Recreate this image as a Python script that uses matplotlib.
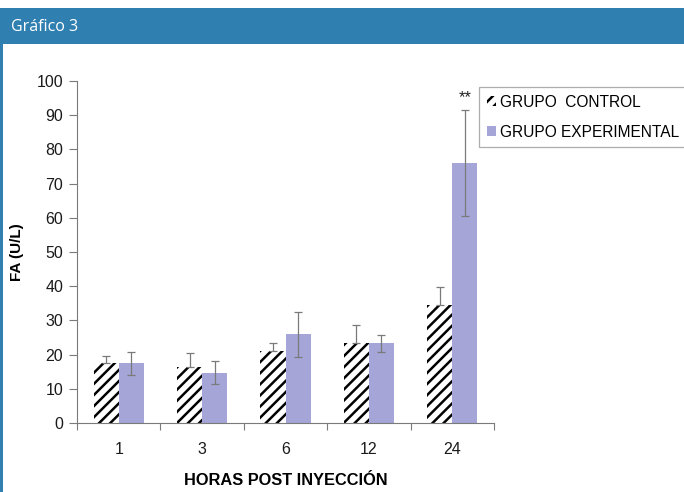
import matplotlib
matplotlib.use("Agg")
import matplotlib.pyplot as plt
from matplotlib.patches import Rectangle, Patch
import numpy as np

# Data
horas = ["1", "3", "6", "12", "24"]
control = [17.4, 16.5, 21.1, 23.3, 34.5]
control_err = [2.2, 4.1, 2.4, 5.3, 5.2]
experimental = [17.4, 14.7, 25.9, 23.3, 75.9]
experimental_err = [3.5, 3.3, 6.5, 2.5, 15.5]
yticks = list(range(0, 101, 10))

plt.rcParams["font.family"] = ["Liberation Sans", "DejaVu Sans"]
plt.rcParams["hatch.linewidth"] = 1.8

W, H = 684, 492
fig = plt.figure(figsize=(W / 100, H / 100), dpi=100)

# Header band and left border
blue = "#2f80b0"
fig.patches.append(Rectangle((0, 1 - 44 / H), 1, 36 / H, transform=fig.transFigure,
                             facecolor=blue, edgecolor="none", zorder=0))
fig.patches.append(Rectangle((0, 0), 3 / W, 1 - 44 / H, transform=fig.transFigure,
                             facecolor=blue, edgecolor="none", zorder=0))
fig.text(11 / W, 1 - 27 / H, "Gráfico 3", color="white", fontsize=11.5,
         family=["Open Sans", "DejaVu Sans"], va="center", ha="left")

ax = fig.add_axes([77 / W, 69 / H, 417 / W, 342 / H])
x = np.arange(1, len(horas) + 1)
bw = 0.3
purple = "#a5a5d8"
grey = "#7a7a7a"

ax.bar(x - bw / 2, control, width=bw, color="white", edgecolor="black",
       hatch="///", linewidth=0, zorder=2)
ax.bar(x + bw / 2, experimental, width=bw, color=purple, edgecolor="none", zorder=2)

ax.errorbar(x - bw / 2, control, yerr=[np.zeros(len(control)), control_err],
            fmt="none", ecolor=grey, elinewidth=0.9, capsize=3, capthick=0.9, zorder=3)
ax.errorbar(x + bw / 2, experimental, yerr=experimental_err,
            fmt="none", ecolor=grey, elinewidth=0.9, capsize=3, capthick=0.9, zorder=3)

ax.text(x[-1] + bw / 2, experimental[-1] + experimental_err[-1] + 1.5, "**",
        ha="center", va="bottom", fontsize=12, color="#222222")

ax.set_xlim(0.5, len(horas) + 0.5)
ax.set_ylim(0, 100)
ax.set_yticks(yticks)
ax.set_xticks(x)
ax.set_xticklabels(horas)
ax.set_xticks(np.arange(0.5, len(horas) + 1, 1), minor=True)
ax.tick_params(axis="x", which="major", length=0, pad=14, labelsize=11.5, labelcolor="#1a1a1a")
ax.tick_params(axis="x", which="minor", length=5, width=0.8, color=grey)
ax.tick_params(axis="y", length=6, width=0.8, color=grey, pad=4, labelsize=11.5,
               labelcolor="#1a1a1a")

for s in ["top", "right"]:
    ax.spines[s].set_visible(False)
for s in ["left", "bottom"]:
    ax.spines[s].set_color(grey)
    ax.spines[s].set_linewidth(0.8)

ax.set_ylabel("FA (U/L)", fontsize=11, fontweight="bold", labelpad=9)
ax.set_xlabel("HORAS POST INYECCIÓN", fontsize=11.8, fontweight="bold", labelpad=11)

handles = [Patch(facecolor="white", edgecolor="black", hatch="///", linewidth=0),
           Patch(facecolor=purple, edgecolor="none")]
leg = fig.legend(handles, ["GRUPO  CONTROL", "GRUPO EXPERIMENTAL"],
                 loc="upper left", bbox_to_anchor=(479 / W, 1 - 87 / H),
                 fontsize=11.2, frameon=True, fancybox=False, handlelength=0.6,
                 handleheight=0.6, handletextpad=0.25, labelspacing=0.95,
                 borderpad=0.5, borderaxespad=0)
leg.get_frame().set_edgecolor("#999999")
leg.get_frame().set_linewidth(0.9)

fig.savefig("out.png", dpi=100)
